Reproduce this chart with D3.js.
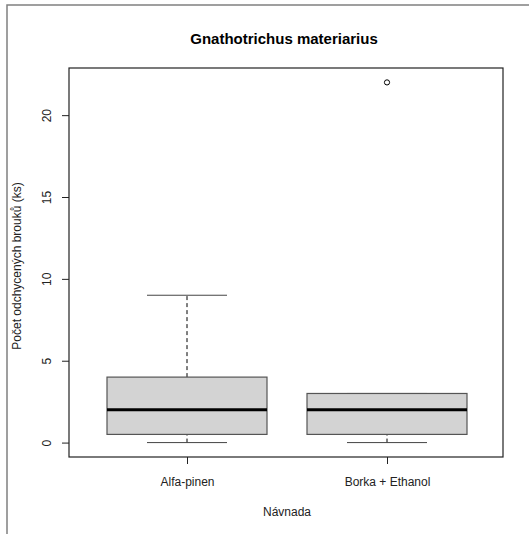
<!DOCTYPE html>
<html>
<head>
<meta charset="utf-8">
<script src="https://cdn.jsdelivr.net/npm/d3@7"></script>
<style>
  body { margin: 0; background: #fff; }
  svg text { font-family: "Liberation Sans", Arial, sans-serif; }
</style>
</head>
<body>
<svg id="chart" width="529" height="534"></svg>
<script>
  // box statistics per bait
  var categories = [ "Alfa-pinen" , "Borka + Ethanol" ];
  var whiskerLow = [ 0 , 0 ];
  var q1 = [ 0.5 , 0.5 ];
  var median = [ 2 , 2 ];
  var q3 = [ 4 , 3 ];
  var whiskerHigh = [ 9 , 3 ];
  var outliers = [ [] , [ 22 ] ];
  var yTicks = [ 0 , 5 , 10 , 15 , 20 ];

  var svg = d3.select( "#chart" );

  // outer frame (top + left only visible)
  svg.append( "path" )
     .attr( "d" , "M7,534V5H529" )
     .attr( "fill" , "none" )
     .attr( "stroke" , "#808080" )
     .attr( "stroke-width" , 1.5 );

  var plot = { left : 69 , right : 503 , top : 68 , bottom : 457 };

  var x = d3.scaleLinear().domain( [ 0.41 , 2.58 ] ).range( [ plot.left , plot.right ] );
  var y = d3.scaleLinear().domain( [ -0.88 , 22.88 ] ).range( [ plot.bottom , plot.top ] );

  var boxHalf = 0.4, capHalf = 0.2;

  var groups = svg.selectAll( "g.box" )
    .data( categories.map( function( c , i ) {
      return { name : c , pos : i + 1 , lo : whiskerLow[i] , q1 : q1[i] , med : median[i] , q3 : q3[i] , hi : whiskerHigh[i] , out : outliers[i] };
    } ) )
    .enter().append( "g" ).attr( "class" , "box" );

  // dashed whiskers
  groups.append( "line" )
    .attr( "x1" , function( d ) { return x( d.pos ); } )
    .attr( "x2" , function( d ) { return x( d.pos ); } )
    .attr( "y1" , function( d ) { return y( d.q3 ); } )
    .attr( "y2" , function( d ) { return y( d.hi ); } )
    .attr( "stroke" , "#000" ).attr( "stroke-width" , 1 ).attr( "stroke-dasharray" , "4,3" );
  groups.append( "line" )
    .attr( "x1" , function( d ) { return x( d.pos ); } )
    .attr( "x2" , function( d ) { return x( d.pos ); } )
    .attr( "y1" , function( d ) { return y( d.lo ); } )
    .attr( "y2" , function( d ) { return y( d.q1 ); } )
    .attr( "stroke" , "#000" ).attr( "stroke-width" , 1 ).attr( "stroke-dasharray" , "4,3" );

  // caps
  [ "lo" , "hi" ].forEach( function( k ) {
    groups.append( "line" )
      .attr( "x1" , function( d ) { return x( d.pos - capHalf ); } )
      .attr( "x2" , function( d ) { return x( d.pos + capHalf ); } )
      .attr( "y1" , function( d ) { return y( d[k] ); } )
      .attr( "y2" , function( d ) { return y( d[k] ); } )
      .attr( "stroke" , "#444" ).attr( "stroke-width" , 1 );
  } );

  // boxes
  groups.append( "rect" )
    .attr( "x" , function( d ) { return x( d.pos - boxHalf ); } )
    .attr( "width" , function( d ) { return x( d.pos + boxHalf ) - x( d.pos - boxHalf ); } )
    .attr( "y" , function( d ) { return y( d.q3 ); } )
    .attr( "height" , function( d ) { return y( d.q1 ) - y( d.q3 ); } )
    .attr( "fill" , "#d3d3d3" ).attr( "stroke" , "#555" ).attr( "stroke-width" , 1.2 );

  // medians
  groups.append( "line" )
    .attr( "x1" , function( d ) { return x( d.pos - boxHalf ); } )
    .attr( "x2" , function( d ) { return x( d.pos + boxHalf ); } )
    .attr( "y1" , function( d ) { return y( d.med ); } )
    .attr( "y2" , function( d ) { return y( d.med ); } )
    .attr( "stroke" , "#000" ).attr( "stroke-width" , 3 );

  // outliers
  groups.each( function( d ) {
    d3.select( this ).selectAll( "circle" ).data( d.out ).enter().append( "circle" )
      .attr( "cx" , x( d.pos ) ).attr( "cy" , function( v ) { return y( v ); } )
      .attr( "r" , 2.6 ).attr( "fill" , "none" ).attr( "stroke" , "#000" ).attr( "stroke-width" , 1 );
  } );

  // plot frame
  svg.append( "rect" )
    .attr( "x" , plot.left ).attr( "y" , plot.top )
    .attr( "width" , plot.right - plot.left ).attr( "height" , plot.bottom - plot.top )
    .attr( "fill" , "none" ).attr( "stroke" , "#222" ).attr( "stroke-width" , 1.2 );

  // y axis
  var yAxis = svg.append( "g" )
    .attr( "transform" , "translate(" + plot.left + ",0)" )
    .call( d3.axisLeft( y ).tickValues( yTicks ).tickSize( 7 ).tickFormat( d3.format( "d" ) ) );
  yAxis.select( ".domain" ).remove();
  yAxis.selectAll( ".tick line" ).attr( "stroke" , "#222" );
  yAxis.selectAll( ".tick text" )
    .attr( "x" , 0 ).attr( "dy" , 0 )
    .attr( "transform" , "translate(-18,0) rotate(-90)" )
    .attr( "text-anchor" , "middle" )
    .attr( "font-size" , 12 ).attr( "fill" , "#222" )
    .attr( "font-family" , "Liberation Sans, Arial, sans-serif" );

  // x axis
  var xAxis = svg.append( "g" )
    .attr( "transform" , "translate(0," + plot.bottom + ")" )
    .call( d3.axisBottom( x ).tickValues( [ 1 , 2 ] ).tickSize( 7 ).tickFormat( function( d ) { return categories[ d - 1 ]; } ) );
  xAxis.select( ".domain" ).remove();
  xAxis.selectAll( ".tick line" ).attr( "stroke" , "#222" );
  xAxis.selectAll( ".tick text" )
    .attr( "y" , 20 ).attr( "dy" , "0.71em" )
    .attr( "font-size" , 12 ).attr( "fill" , "#222" )
    .attr( "font-family" , "Liberation Sans, Arial, sans-serif" );

  // titles
  svg.append( "text" )
    .attr( "x" , 284 ).attr( "y" , 44 )
    .attr( "text-anchor" , "middle" )
    .attr( "font-size" , 15 ).attr( "font-weight" , "bold" ).attr( "fill" , "#000" )
    .text( "Gnathotrichus materiarius" );

  svg.append( "text" )
    .attr( "x" , 287 ).attr( "y" , 516 )
    .attr( "text-anchor" , "middle" )
    .attr( "font-size" , 12 ).attr( "fill" , "#222" )
    .text( "Návnada" );

  svg.append( "text" )
    .attr( "transform" , "translate(21,266) rotate(-90)" )
    .attr( "text-anchor" , "middle" )
    .attr( "font-size" , 12 ).attr( "fill" , "#222" )
    .text( "Počet odchycených brouků (ks)" );
</script>
</body>
</html>
